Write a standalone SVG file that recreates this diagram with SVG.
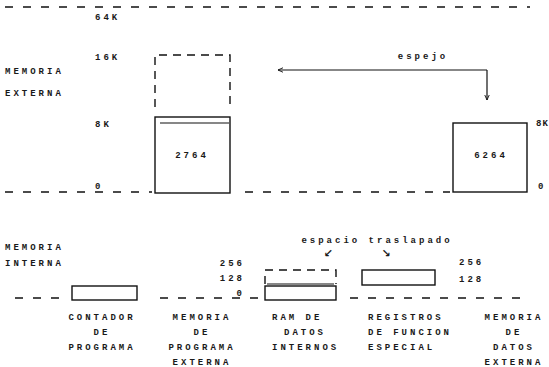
<svg xmlns="http://www.w3.org/2000/svg" width="549" height="367" viewBox="0 0 549 367">
<defs>
<style>
text{font-family:"Liberation Mono","DejaVu Sans Mono",monospace;font-size:9px;font-weight:bold;fill:#1a1a1a;letter-spacing:3px}
.c{text-anchor:middle}
.r{text-anchor:end}
.dash{stroke:#111;stroke-width:1.7;stroke-dasharray:8 10;fill:none}
.box{stroke:#111;stroke-width:1.4;fill:none}
.dbox{stroke:#111;stroke-width:1.4;stroke-dasharray:8 6;fill:none}
.ln{stroke:#111;stroke-width:1.2;fill:none}
.ar{font-family:"DejaVu Sans",sans-serif;font-size:11px;letter-spacing:0}
</style>
<marker id="ah" viewBox="0 0 10 10" refX="9" refY="5" markerWidth="6" markerHeight="6" orient="auto-start-reverse" markerUnits="userSpaceOnUse">
<path d="M0,1 L9,5 L0,9" fill="none" stroke="#111" stroke-width="1.5"/>
</marker>
</defs>
<rect width="549" height="367" fill="#fff"/>
<g id="axes">
<line class="dash" x1="5" y1="7" x2="530" y2="7"/>
<line class="dash" x1="5" y1="192" x2="152" y2="192"/>
<line class="dash" x1="245" y1="192" x2="450" y2="192"/>
<line class="dash" x1="15" y1="298" x2="62" y2="298"/>
<line class="dash" x1="160" y1="298" x2="262" y2="298"/>
<line class="dash" x1="350" y1="298" x2="530" y2="298"/>
</g>
<g id="labels-ext">
<text x="5" y="74">MEMORIA</text>
<text x="5" y="96">EXTERNA</text>
<text x="95" y="20">64K</text>
<text x="95" y="60">16K</text>
<text x="95" y="127">8K</text>
<text x="95" y="189">0</text>
<text x="536" y="126" style="letter-spacing:1px">8K</text>
<text x="538" y="189">0</text>
</g>
<g id="n2764">
<path class="dbox" d="M155,107 V55 H230 V107"/>
<rect class="box" x="155" y="117" width="75" height="76"/>
<line class="ln" x1="160" y1="123" x2="229" y2="123"/>
<text class="c" x="192" y="158">2764</text>
</g>
<g id="n6264">
<rect class="box" x="453" y="123" width="74" height="69"/>
<text class="c" x="491" y="158">6264</text>
</g>
<g id="connectors">
<path class="ln" d="M487,70 H278" marker-end="url(#ah)"/>
<path class="ln" d="M487,70 V100" marker-end="url(#ah)"/>
<text class="c" x="423" y="59">espejo</text>
</g>
<g id="labels-int">
<text x="5" y="250">MEMORIA</text>
<text x="5" y="266">INTERNA</text>
<text class="r" x="245" y="266">256</text>
<text class="r" x="245" y="281">128</text>
<text class="r" x="245" y="296">0</text>
<text x="459" y="265">256</text>
<text x="459" y="282">128</text>
<text class="c" x="377" y="243">espacio traslapado</text>
<text class="c ar" x="328" y="257">↙</text>
<text class="c ar" x="386" y="257">↘</text>
</g>
<g id="contador">
<rect class="box" x="72" y="286" width="65" height="14"/>
<text class="c" x="102" y="320">CONTADOR</text>
<text class="c" x="102" y="335">DE</text>
<text class="c" x="102" y="350">PROGRAMA</text>
</g>
<g id="memprog">
<text class="c" x="202" y="320">MEMORIA</text>
<text class="c" x="202" y="335">DE</text>
<text class="c" x="202" y="350">PROGRAMA</text>
<text class="c" x="202" y="365">EXTERNA</text>
</g>
<g id="ram">
<path class="dbox" d="M265,284 V270 H336 V284"/>
<rect class="box" x="265" y="286" width="71" height="14"/>
<line class="ln" x1="267" y1="284" x2="334" y2="284"/>
<text x="272" y="320">RAM DE</text>
<text class="c" x="305" y="335">DATOS</text>
<text x="272" y="350">INTERNOS</text>
</g>
<g id="registros">
<rect class="box" x="362" y="270" width="73" height="15"/>
<text x="368" y="320">REGISTROS</text>
<text x="368" y="335">DE FUNCION</text>
<text x="368" y="350">ESPECIAL</text>
</g>
<g id="memdatos">
<text class="c" x="514" y="320">MEMORIA</text>
<text class="c" x="514" y="335">DE</text>
<text class="c" x="514" y="350">DATOS</text>
<text class="c" x="514" y="365">EXTERNA</text>
</g>
</svg>
